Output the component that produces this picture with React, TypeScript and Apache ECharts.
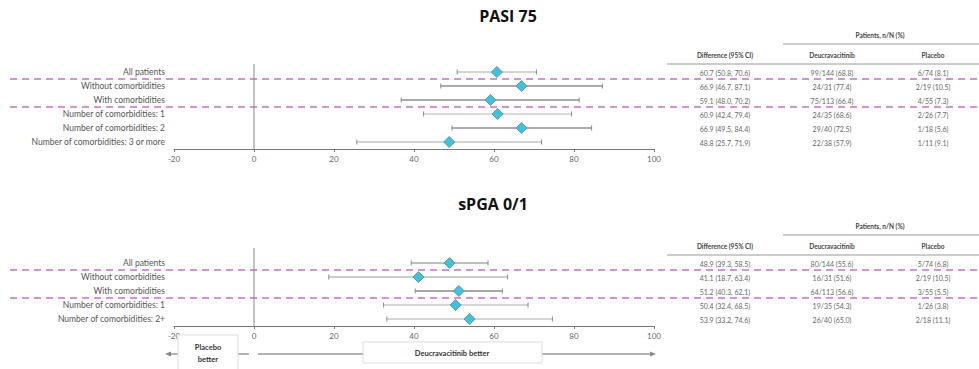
import React, { useEffect, useRef } from "react";
import * as echarts from "echarts";

// ---------- data ----------
const topTitle = "PASI 75";
const bottomTitle = "sPGA 0/1";
const topCategories = [
  "All patients",
  "Without comorbidities",
  "With comorbidities",
  "Number of comorbidities: 1",
  "Number of comorbidities: 2",
  "Number of comorbidities: 3 or more",
];
const topPoint = [60.7, 66.9, 59.1, 60.9, 66.9, 48.8];
const topLow = [50.8, 46.7, 36.8, 42.4, 49.5, 25.7];
const topHigh = [70.6, 87.1, 81.3, 79.4, 84.4, 71.9];
const topDiff = [
  "60.7 (50.8, 70.6)",
  "66.9 (46.7, 87.1)",
  "59.1 (48.0, 70.2)",
  "60.9 (42.4, 79.4)",
  "66.9 (49.5, 84.4)",
  "48.8 (25.7, 71.9)",
];
const topDeuc = ["99/144 (68.8)", "24/31 (77.4)", "75/113 (66.4)", "24/35 (68.6)", "29/40 (72.5)", "22/38 (57.9)"];
const topPlacebo = ["6/74 (8.1)", "2/19 (10.5)", "4/55 (7.3)", "2/26 (7.7)", "1/18 (5.6)", "1/11 (9.1)"];

const bottomCategories = [
  "All patients",
  "Without comorbidities",
  "With comorbidities",
  "Number of comorbidities: 1",
  "Number of comorbidities: 2+",
];
const bottomPoint = [48.9, 41.1, 51.2, 50.4, 53.9];
const bottomLow = [39.3, 18.7, 40.3, 32.4, 33.2];
const bottomHigh = [58.5, 63.4, 62.1, 68.5, 74.6];
const bottomDiff = [
  "48.9 (39.3, 58.5)",
  "41.1 (18.7, 63.4)",
  "51.2 (40.3, 62.1)",
  "50.4 (32.4, 68.5)",
  "53.9 (33.2, 74.6)",
];
const bottomDeuc = ["80/144 (55.6)", "16/31 (51.6)", "64/113 (56.6)", "19/35 (54.3)", "26/40 (65.0)"];
const bottomPlacebo = ["5/74 (6.8)", "2/19 (10.5)", "3/55 (5.5)", "1/26 (3.8)", "2/18 (11.1)"];

const xTicks = { min: -20, max: 100, interval: 20 };
const tableHeaders = ["Difference (95% CI)", "Deucravacitinib", "Placebo"];
const patientsHeader = "Patients, n/N (%)";
const placeboBetter = ["Placebo", "better"];
const deucBetter = "Deucravacitinib better";

// ---------- layout / style ----------
const W = 979;
const H = 369;
const FONT = "Lato";
const GRID_LEFT = 174;
const GRID_RIGHT_X = 654;
const ROW = 14;
const TOP_GRID_TOP = 65;
const BOT_GRID_TOP = 256;
const TOP_SHADES = ["#c4c4c4", "#8f8f8f", "#8f8f8f", "#cfcfcf", "#8f8f8f", "#c4c4c4"];
const BOT_SHADES = ["#a8a8a8", "#bdbdbd", "#8a8a8a", "#c8c8c8", "#c8c8c8"];
const COL_X = [725, 832, 933];

function xPix(v: number) {
  return GRID_LEFT + ((v - xTicks.min) / (xTicks.max - xTicks.min)) * (GRID_RIGHT_X - GRID_LEFT);
}

function whiskerSeries(gridIdx: number, low: number[], high: number[], shades: string[]) {
  return {
    type: "custom",
    xAxisIndex: gridIdx,
    yAxisIndex: gridIdx,
    silent: true,
    z: 2,
    encode: { x: [0, 1], y: 2 },
    data: low.map((l, i) => [l, high[i], i]),
    renderItem: (params: any, api: any) => {
      const a = api.coord([api.value(0), api.value(2)]);
      const b = api.coord([api.value(1), api.value(2)]);
      const stroke = shades[params.dataIndex] || "#999";
      const style = { stroke, lineWidth: 1.6 };
      return {
        type: "group",
        children: [
          { type: "line", shape: { x1: a[0], y1: a[1], x2: b[0], y2: b[1] }, style },
          { type: "line", shape: { x1: a[0], y1: a[1] - 2.5, x2: a[0], y2: a[1] + 2.5 }, style: { stroke: "#8a8a8a", lineWidth: 1 } },
          { type: "line", shape: { x1: b[0], y1: b[1] - 2.5, x2: b[0], y2: b[1] + 2.5 }, style: { stroke: "#8a8a8a", lineWidth: 1 } },
        ],
      };
    },
  };
}

function pointSeries(gridIdx: number, pts: number[]) {
  return {
    type: "scatter",
    xAxisIndex: gridIdx,
    yAxisIndex: gridIdx,
    symbol: "diamond",
    symbolSize: [11, 11],
    z: 3,
    itemStyle: { color: "#3ec3dc", borderColor: "#6f8f99", borderWidth: 1, opacity: 1 },
    data: pts.map((p, i) => [p, i]),
  };
}

function textEl(text: string, x: number, y: number, opts: any = {}) {
  return {
    type: "text",
    silent: true,
    z: 10,
    style: {
      text,
      x,
      y,
      textAlign: opts.align || "center",
      textVerticalAlign: "middle",
      fontSize: opts.size || 7,
      fontWeight: opts.weight || "normal",
      fontFamily: opts.family || FONT,
      fill: opts.fill || "#666",
    },
  };
}

function dashed(y: number) {
  return {
    type: "line",
    silent: true,
    z: 1,
    shape: { x1: 10, y1: y, x2: W, y2: y },
    style: { stroke: "#c86fd0", lineWidth: 1.3, lineDash: [7, 5] },
  };
}

function solid(x1: number, y1: number, x2: number, y2: number, stroke = "#888", lw = 1) {
  return { type: "line", silent: true, z: 1, shape: { x1, y1, x2, y2 }, style: { stroke, lineWidth: lw } };
}

function table(gridTop: number, headerY: number, diff: string[], deuc: string[], plac: string[]) {
  const els: any[] = [];
  els.push(textEl(patientsHeader, 880, headerY - 20, { weight: "bold", fill: "#444", size: 6.5 }));
  els.push(solid(783, headerY - 11, W, headerY - 11, "#999", 1.2));
  tableHeaders.forEach((h, i) => els.push(textEl(h, COL_X[i], headerY, { weight: "bold", fill: "#444", size: 6.5 })));
  els.push(solid(667, headerY + 9, W, headerY + 9, "#999", 1.2));
  diff.forEach((d, i) => {
    const y = gridTop + ROW / 2 + ROW * i + 0.5;
    els.push(textEl(d, COL_X[0], y));
    els.push(textEl(deuc[i], COL_X[1], y));
    els.push(textEl(plac[i], COL_X[2], y));
  });
  return els;
}

export default function App() {
  const ref = useRef<HTMLDivElement>(null);

  useEffect(() => {
    if (!ref.current) return;
    const chart = echarts.init(ref.current, undefined, { renderer: "svg", width: W, height: H });

    const topH = ROW * topCategories.length;
    const botH = ROW * bottomCategories.length;

    const xAxisBase = (gridIndex: number) => ({
      type: "value",
      gridIndex,
      min: xTicks.min,
      max: xTicks.max,
      interval: xTicks.interval,
      splitLine: { show: false },
      axisLine: { show: true, onZero: false, lineStyle: { color: "#777", width: 1 } },
      axisTick: { show: true, length: 3, lineStyle: { color: "#777" } },
      axisLabel: { fontSize: 8, color: "#666", fontFamily: FONT, margin: 6 },
    });
    const yAxisBase = (gridIndex: number, cats: string[]) => ({
      type: "category",
      gridIndex,
      inverse: true,
      data: cats,
      axisLine: { show: false },
      axisTick: { show: false },
      splitLine: { show: false },
      axisLabel: { fontSize: 8.5, color: "#555", fontFamily: FONT, margin: 9 },
    });

    const x0 = xPix(0);
    const graphics: any[] = [
      textEl(topTitle, 508, 16, { size: 16, weight: "bold", fill: "#111", family: "Open Sans" }),
      textEl(bottomTitle, 493, 204, { size: 16, weight: "bold", fill: "#111", family: "Open Sans" }),
      dashed(TOP_GRID_TOP + ROW),
      dashed(TOP_GRID_TOP + ROW * 3),
      dashed(BOT_GRID_TOP + ROW),
      dashed(BOT_GRID_TOP + ROW * 3),
      solid(x0, TOP_GRID_TOP - 1, x0, TOP_GRID_TOP + topH, "#888", 1),
      solid(x0, BOT_GRID_TOP - 8, x0, BOT_GRID_TOP + botH, "#888", 1),
      ...table(TOP_GRID_TOP, 55, topDiff, topDeuc, topPlacebo),
      ...table(BOT_GRID_TOP, 246, bottomDiff, bottomDeuc, bottomPlacebo),
      // direction arrows
      solid(170, 354, 249, 354, "#999", 1.5),
      { type: "polygon", silent: true, z: 2, shape: { points: [[165, 354], [171, 351.5], [171, 356.5]] }, style: { fill: "#888" } },
      solid(258, 354, 650, 354, "#999", 1.5),
      { type: "polygon", silent: true, z: 2, shape: { points: [[656, 354], [650, 351.5], [650, 356.5]] }, style: { fill: "#888" } },
      { type: "rect", silent: true, z: 5, shape: { x: 178, y: 335, width: 60, height: 40 }, style: { fill: "#fff", stroke: "#ddd", lineWidth: 1 } },
      textEl(placeboBetter[0], 208, 347, { size: 7.5, weight: "bold", fill: "#333" }),
      textEl(placeboBetter[1], 208, 359, { size: 7.5, weight: "bold", fill: "#333" }),
      { type: "rect", silent: true, z: 5, shape: { x: 363, y: 342, width: 179, height: 21 }, style: { fill: "#fff", stroke: "#ddd", lineWidth: 1 } },
      textEl(deucBetter, 452, 353, { size: 7.5, weight: "bold", fill: "#333" }),
    ];

    chart.setOption({
      animation: false,
      backgroundColor: "#fff",
      grid: [
        { left: GRID_LEFT, right: W - GRID_RIGHT_X, top: TOP_GRID_TOP, height: topH, containLabel: false },
        { left: GRID_LEFT, right: W - GRID_RIGHT_X, top: BOT_GRID_TOP, height: botH, containLabel: false },
      ],
      xAxis: [xAxisBase(0), xAxisBase(1)],
      yAxis: [yAxisBase(0, topCategories), yAxisBase(1, bottomCategories)],
      series: [
        whiskerSeries(0, topLow, topHigh, TOP_SHADES),
        pointSeries(0, topPoint),
        whiskerSeries(1, bottomLow, bottomHigh, BOT_SHADES),
        pointSeries(1, bottomPoint),
      ],
      graphic: graphics,
    });

    return () => chart.dispose();
  }, []);

  return (
    <div
      ref={ref}
      style={{ position: "fixed", left: 0, top: 0, width: W, height: H, background: "#fff" }}
    />
  );
}
